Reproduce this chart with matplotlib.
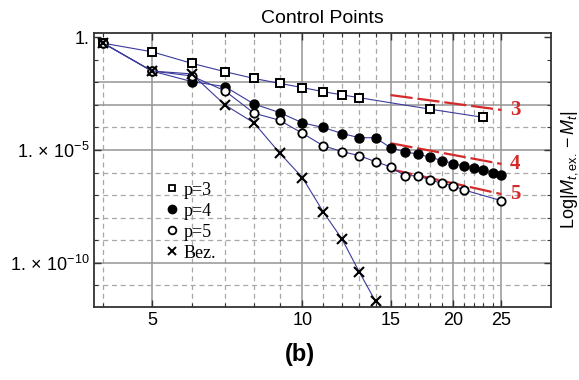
import matplotlib
matplotlib.use("Agg")
import matplotlib.pyplot as plt
from matplotlib.lines import Line2D
from matplotlib.ticker import FixedLocator, NullFormatter

plt.rcParams["font.family"] = ["Liberation Sans", "DejaVu Sans"]
plt.rcParams["mathtext.fontset"] = "custom"
plt.rcParams["mathtext.rm"] = "Liberation Sans"
plt.rcParams["mathtext.it"] = "Liberation Sans:italic"
plt.rcParams["mathtext.bf"] = "Liberation Sans:bold"

# data
n_p3 = [4, 5, 6, 7, 8, 9, 10, 11, 12, 13, 18, 23]
err_p3 = [5.5e-1, 2.3e-1, 7.1e-2, 3.0e-2, 1.5e-2, 9.1e-3, 5.9e-3, 3.9e-3,
          2.8e-3, 2.1e-3, 6.5e-4, 2.8e-4]

n_p4 = [4, 5, 6, 7, 8, 9, 10, 11, 12, 13, 14, 15, 16, 17, 18, 19, 20, 21,
        22, 23, 24, 25]
err_p4 = [5.5e-1, 3.2e-2, 1.1e-2, 6.5e-3, 1.1e-3, 4.6e-4, 1.6e-4, 1.0e-4,
          5.4e-5, 3.5e-5, 3.5e-5, 1.26e-5, 8.5e-6, 6.5e-6, 4.8e-6, 3.4e-6,
          2.5e-6, 1.95e-6, 1.6e-6, 1.26e-6, 1.0e-6, 7.8e-7]

n_p5 = [4, 5, 6, 7, 8, 9, 10, 11, 12, 13, 14, 15, 16, 17, 18, 19, 20, 21, 25]
err_p5 = [5.5e-1, 3.2e-2, 1.95e-2, 4.2e-3, 4.3e-4, 2.1e-4, 5.5e-5, 1.55e-5,
          8.5e-6, 5.6e-6, 3.0e-6, 1.8e-6, 7.2e-7, 7.2e-7, 4.7e-7, 3.3e-7,
          2.6e-7, 1.7e-7, 5.6e-8]

n_bez = [4, 5, 6, 7, 8, 9, 10, 11, 12, 13, 14]
err_bez = [5.5e-1, 3.2e-2, 2.4e-2, 1.0e-3, 1.6e-4, 7.4e-6, 5.9e-7, 1.8e-8,
           1.1e-9, 3.7e-11, 1.9e-12]

# convergence-order reference lines
ref_orders = ["3", "4", "5"]
ref_n = [15, 25]
ref_start = [2.75e-3, 2.0e-5, 1.4e-6]
ref_end = [6.0e-4, 2.4e-6, 1.1e-7]

x_solid = [5, 10, 15, 20, 25]
x_dashed = [4, 6, 7, 8, 9, 11, 12, 13, 14, 16, 17, 18, 19, 21, 22, 23, 24]
y_solid = [1e-2, 1e-3, 1e-5, 1e-10]
y_dashed = [1e-4, 1e-6, 1e-7, 1e-8, 1e-9, 1e-11]
y_ticks = [1, 1e-5, 1e-10]
y_ticklabels = ["1.", r"1.$\,\times\,$10$^{-5}$", r"1.$\,\times\,$10$^{-10}$"]

LINE = "#3b3b9c"
RED = "#d42a2a"

fig = plt.figure(figsize=(5.79, 3.80), dpi=100)
ax = fig.add_axes([0.1624, 0.1929, 0.7892, 0.7203])
ax.set_xscale("log")
ax.set_yscale("log")
ax.set_xlim(3.83, 31.4)
ax.set_ylim(1.1e-12, 1.57)

for x in x_solid:
    ax.axvline(x, color="#959595", lw=1.1, zorder=0)
for x in x_dashed:
    ax.axvline(x, color="#a8a8a8", lw=0.9, ls=(0, (4, 3)), zorder=0)
for y in y_solid:
    ax.axhline(y, color="#959595", lw=1.1, zorder=0)
for y in y_dashed:
    ax.axhline(y, color="#a8a8a8", lw=0.9, ls=(0, (4, 3)), zorder=0)

ax.plot(n_p3, err_p3, color=LINE, lw=0.8, marker="s", ms=6, mfc="white",
        mec="black", mew=1.4, zorder=3)
ax.plot(n_p4, err_p4, color=LINE, lw=0.8, marker="o", ms=6.5, mfc="black",
        mec="black", zorder=3)
ax.plot(n_p5, err_p5, color=LINE, lw=0.8, marker="o", ms=6, mfc="white",
        mec="black", mew=1.3, zorder=3)
ax.plot(n_bez, err_bez, color=LINE, lw=0.8, marker="x", ms=7.5, mec="black",
        mew=1.5, zorder=3)

for order, y0, y1 in zip(ref_orders, ref_start, ref_end):
    ax.plot(ref_n, [y0, y1], color=RED, lw=1.6, dashes=(10, 2.2), zorder=2)
    ax.text(ref_n[1] * 1.04, y1, order, color=RED, fontsize=15,
            fontweight="bold", family="Liberation Serif", va="center", ha="left")

ax.xaxis.set_major_locator(FixedLocator(x_solid))
ax.xaxis.set_minor_locator(FixedLocator(x_dashed))
ax.set_xticklabels([str(v) for v in x_solid])
ax.xaxis.set_minor_formatter(NullFormatter())
ax.yaxis.set_major_locator(FixedLocator(y_ticks))
ax.yaxis.set_minor_locator(FixedLocator(y_solid[:3] + y_dashed + [1e-1]))
ax.set_yticklabels(y_ticklabels)
ax.yaxis.set_minor_formatter(NullFormatter())
ax.tick_params(which="both", direction="in", top=True, right=True,
               labelsize=13, color="#333333")
ax.tick_params(which="major", length=5, width=1)
ax.tick_params(which="minor", length=3, width=0.8)
for s in ax.spines.values():
    s.set_color("#333333")
    s.set_linewidth(1.3)

handles = [
    Line2D([], [], ls="none", marker="s", ms=5, mfc="white", mec="black", mew=1.3),
    Line2D([], [], ls="none", marker="o", ms=6, mfc="black", mec="black"),
    Line2D([], [], ls="none", marker="o", ms=5.5, mfc="white", mec="black", mew=1.3),
    Line2D([], [], ls="none", marker="x", ms=6, mec="black", mew=1.4),
]
ax.legend(handles, ["p=3", "p=4", "p=5", "Bez."], loc="upper left",
          bbox_to_anchor=(0.14, 0.49), frameon=False, handlelength=0.6,
          handletextpad=0.3, labelspacing=0.22, borderpad=0,
          prop={"family": "Liberation Serif", "size": 13})

ax.set_title("Control Points", fontsize=14, pad=7)
fig.text(0.983, 0.553, r"Log$|M_{t,\mathrm{ex.}}-M_t|$", rotation=90,
         ha="center", va="center", fontsize=13)
fig.text(0.518, 0.066, "(b)", ha="center", va="center", fontsize=17,
         fontweight="bold")

fig.savefig("out.png", dpi=100)
